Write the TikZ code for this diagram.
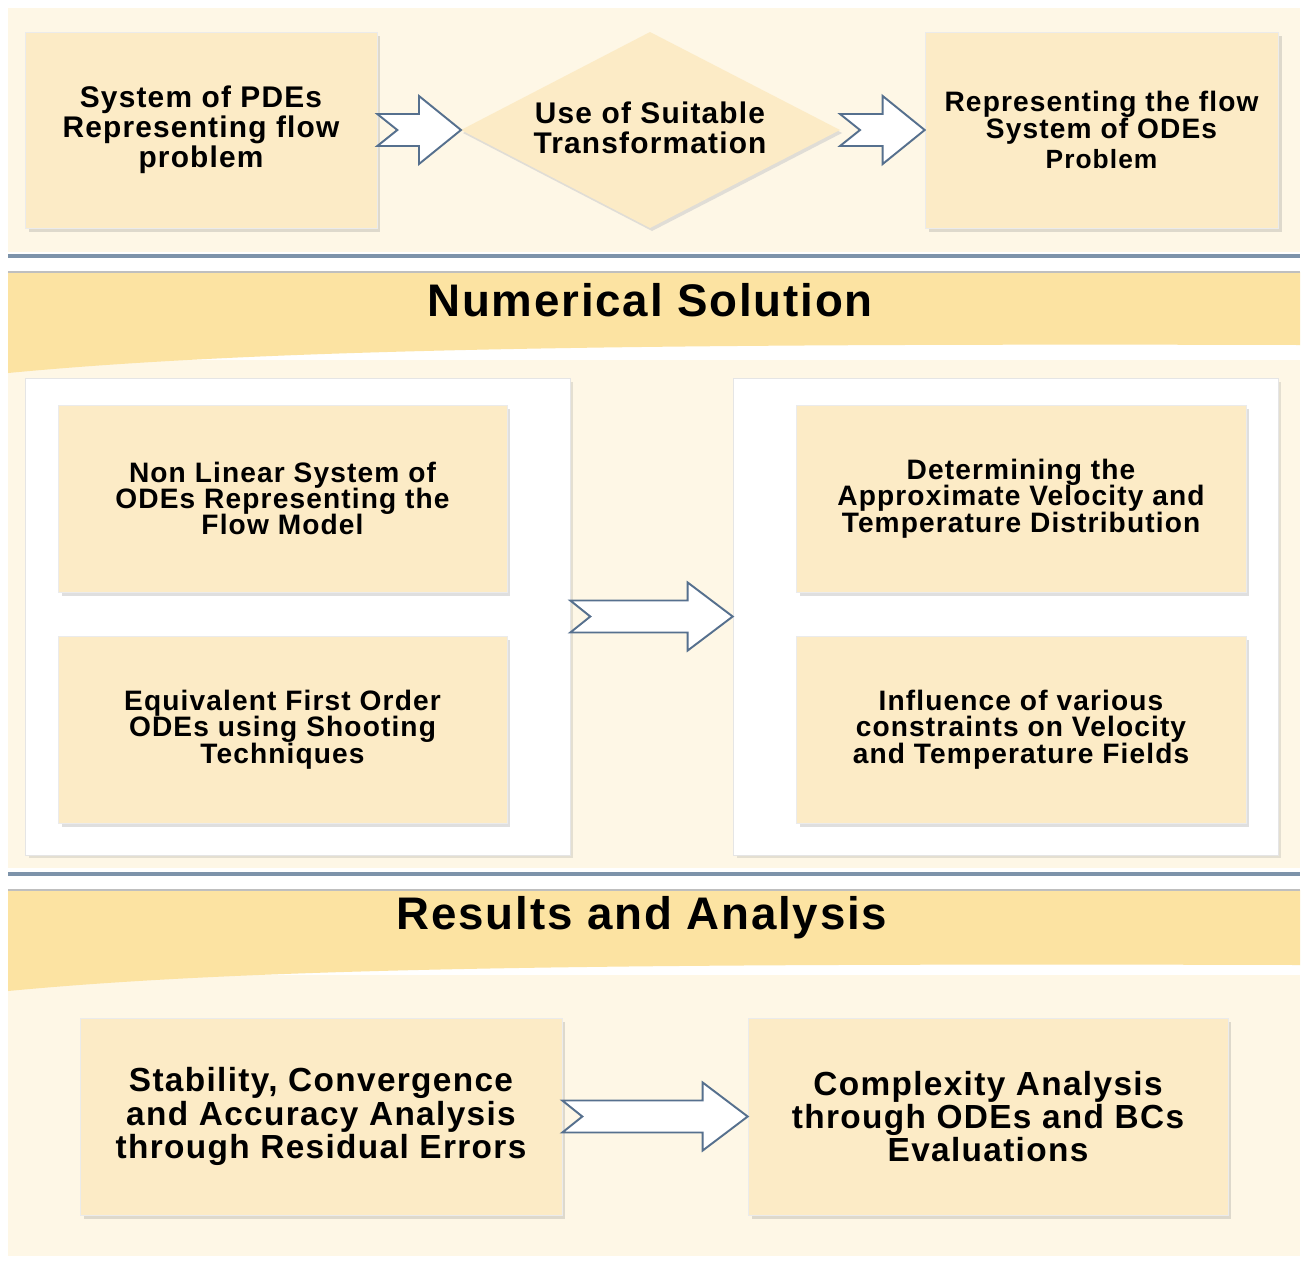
\documentclass[tikz,border=0pt]{standalone}
\usepackage{fontspec}
\setmainfont{Liberation Sans}[LetterSpace=4]
\usetikzlibrary{shapes.geometric,shadows,calc}
\definecolor{cream}{HTML}{FEF7E6}
\definecolor{boxfill}{HTML}{FCEBC6}
\definecolor{band}{HTML}{FCE3A2}
\definecolor{arrowline}{HTML}{56708E}
\definecolor{sepline}{HTML}{7D93AA}
\tikzset{
  box/.style={rectangle, fill=boxfill, draw=black!8, inner sep=2pt, align=center,
    font=\bfseries\fontsize{16}{15}\selectfont,
    drop shadow={opacity=0.25, shadow xshift=2pt, shadow yshift=-2pt}},
  panel/.style={rectangle, fill=white, draw=black!10,
    drop shadow={opacity=0.2, shadow xshift=2pt, shadow yshift=-2pt}},
  barrow/.style={draw=arrowline, line width=1.1pt, fill=white, line join=miter},
  title/.style={font=\bfseries\fontsize{26}{28}\selectfont},
}
\newcommand\blockarrow[6]{%
  \draw[barrow] ($(#1)+(0,-#3)$) -- ($(#2)+(-#5,-#3)$) -- ($(#2)+(-#5,-#4)$) -- (#2)
    -- ($(#2)+(-#5,#4)$) -- ($(#2)+(-#5,#3)$) -- ($(#1)+(0,#3)$) -- ($(#1)+(#6,0)$) -- cycle;}
\begin{document}
\begin{tikzpicture}[x=0.02cm,y=-0.02cm]
\useasboundingbox[fill=white] (0,0) rectangle (1307,1262);
% backgrounds
\fill[cream] (8,8) rectangle (1300,252);
\fill[cream] (8,360) rectangle (1300,868);
\fill[cream] (8,975) rectangle (1300,1256);
% separators
\draw[sepline, line width=2pt] (8,256) -- (1300,256);
\draw[sepline, line width=2pt] (8,874) -- (1300,874);
% bands
\fill[band] (8,272) -- (1300,272) -- (1300,345) .. controls (600,343) and (250,350) .. (8,373) -- cycle;
\draw[black!25, line width=0.6pt] (8,272) -- (1300,272);
\fill[band] (8,890) -- (1300,890) -- (1300,965) .. controls (600,963) and (250,968) .. (8,991) -- cycle;
\draw[black!25, line width=0.6pt] (8,890) -- (1300,890);
\node[title] (t1) at (650,300) {Numerical Solution};
\node[title] (t2) at (642,918) {Results and Analysis};
% top row
\node[box, minimum width=7.04cm, minimum height=3.92cm, font=\bfseries\fontsize{17}{17}\selectfont] (pde) at (201,130)
  {System of PDEs\\Representing flow\\problem};
\coordinate (trw) at (461,130);
\coordinate (tre) at (840,130);
\coordinate (trn) at (650,32);
\coordinate (trs) at (650,228);
\fill[black!20, opacity=0.6] ($(trw)+(2,3)$) -- ($(trn)+(2,3)$) -- ($(tre)+(2,3)$) -- ($(trs)+(2,3)$) -- cycle;
\fill[boxfill] (trw) -- (trn) -- (tre) -- (trs) -- cycle;
\node[align=center, font=\bfseries\fontsize{17}{17}\selectfont] (tr) at (650,128)
  {Use of Suitable\\Transformation};
\node[box, minimum width=7.06cm, minimum height=3.92cm, font=\bfseries\fontsize{16}{15}\selectfont] (ode) at (1101.5,130)
  {Representing the flow\\System of ODEs\\[2pt]{\fontsize{15}{15}\selectfont Problem}};
% panels
\node[panel, minimum width=10.9cm, minimum height=9.54cm] (pl) at (297.5,616.5) {};
\node[panel, minimum width=10.9cm, minimum height=9.54cm] (pr) at (1005.5,616.5) {};
\node[box, minimum width=8.98cm, minimum height=3.74cm] (nl) at (282.5,498.5)
  {Non Linear System of\\ODEs Representing the\\Flow Model};
\node[box, minimum width=8.98cm, minimum height=3.74cm] (eq) at (282.5,729.5)
  {Equivalent First Order\\ODEs using Shooting\\Techniques};
\node[box, minimum width=9.0cm, minimum height=3.74cm] (det) at (1021,498.5)
  {Determining the\\Approximate Velocity and\\Temperature Distribution};
\node[box, minimum width=9.0cm, minimum height=3.74cm] (inf) at (1021,729.5)
  {Influence of various\\constraints on Velocity\\and Temperature Fields};
% bottom row
\node[box, minimum width=9.64cm, minimum height=3.94cm, font=\bfseries\fontsize{19}{19}\selectfont] (sta) at (321,1116.5)
  {Stability, Convergence\\and Accuracy Analysis\\through Residual Errors};
\node[box, minimum width=9.6cm, minimum height=3.94cm, font=\bfseries\fontsize{19}{19}\selectfont] (cpx) at (988,1116.5)
  {Complexity Analysis\\through ODEs and BCs\\Evaluations};
% block arrows
\blockarrow{pde.east}{trw}{16}{34}{42}{20}
\blockarrow{tre}{ode.west}{16}{34}{42}{20}
\blockarrow{pl.east}{pr.west}{16}{34}{45}{20}
\blockarrow{sta.east}{cpx.west}{16}{34}{45}{20}
\end{tikzpicture}
\end{document}
